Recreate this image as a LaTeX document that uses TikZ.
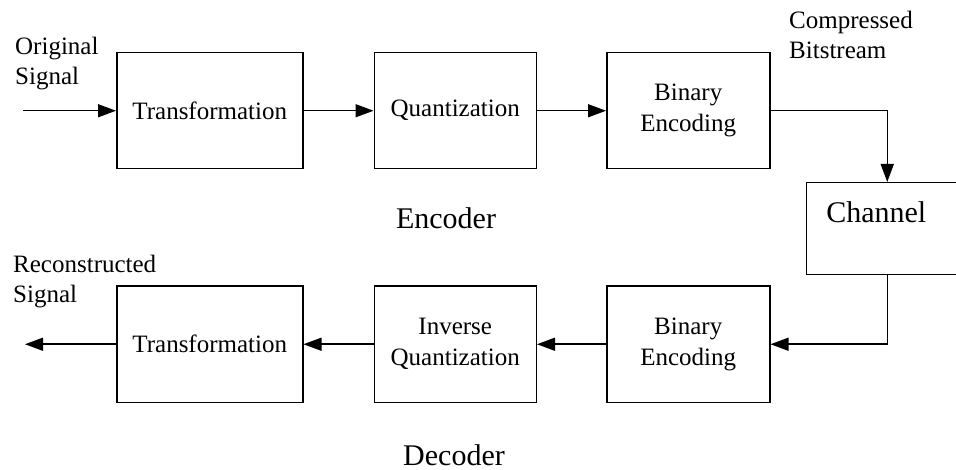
\documentclass[tikz,border=0pt]{standalone}
\usepackage{fontspec}
\setmainfont{Liberation Serif}
\usetikzlibrary{arrows.meta,positioning,calc}
\tikzset{
  blk/.style={draw, line width=1.5pt, minimum height=116pt, align=center,
        font=\fontsize{25}{31}\selectfont, inner sep=2pt},
  chanblk/.style={draw, line width=1.5pt, minimum height=92pt, text width=122pt,
        inner xsep=20pt, align=left, text height=21pt, text depth=33pt,
        font=\fontsize{30}{36}\selectfont},
  lbl/.style={align=left, font=\fontsize{25}{30}\selectfont, inner sep=0pt},
  ttl/.style={font=\fontsize{30}{36}\selectfont, inner sep=0pt},
  flow/.style={-{Triangle[length=18pt,width=13pt]}, line width=1.5pt},
}
\begin{document}
\begin{tikzpicture}[x=1pt, y=1pt, node distance=116pt and 70pt]
  \useasboundingbox (0,0) rectangle (956,-470);
  % encoder row
  \node[blk, minimum width=186pt, anchor=north west] (etr) at (116,-52) {Transformation};
  \node[blk, minimum width=162pt, right=of etr] (equ) {Quantization};
  \node[blk, minimum width=163pt, right=69pt of equ] (ebin) {Binary\\Encoding};
  \node[chanblk, anchor=north west] (chan) at ($(ebin.north east)+(35,-130)$) {Channel};
  % decoder row
  \node[blk, minimum width=186pt, below=of etr] (dtr) {Transformation};
  \node[blk, minimum width=162pt, below=of equ] (diq) {Inverse\\Quantization};
  \node[blk, minimum width=163pt, below=of ebin] (dbin) {Binary\\Encoding};
  % labels (base = last line)
  \node[lbl, anchor=base west] (orig) at (15,-85) {Original\\Signal};
  \node[lbl, anchor=base west] (comp) at (789,-59) {Compressed\\Bitstream};
  \node[lbl, anchor=base west] (recon) at (13,-303) {Reconstructed\\Signal};
  \node[ttl, anchor=base] (enc) at (446,-229) {Encoder};
  \node[ttl, anchor=base] (dec) at (454,-465) {Decoder};
  % edges
  \coordinate[left=93pt of etr.west] (src);
  \coordinate[left=91pt of dtr.west] (snk);
  \draw[flow] (src) -- (etr);
  \draw[flow] (etr) -- (equ);
  \draw[flow] (equ) -- (ebin);
  \draw[flow] (ebin.east) -| (chan.north);
  \draw[flow] (chan.south) |- (dbin.east);
  \draw[flow] (dbin) -- (diq);
  \draw[flow] (diq) -- (dtr);
  \draw[flow] (dtr) -- (snk);
\end{tikzpicture}
\end{document}
